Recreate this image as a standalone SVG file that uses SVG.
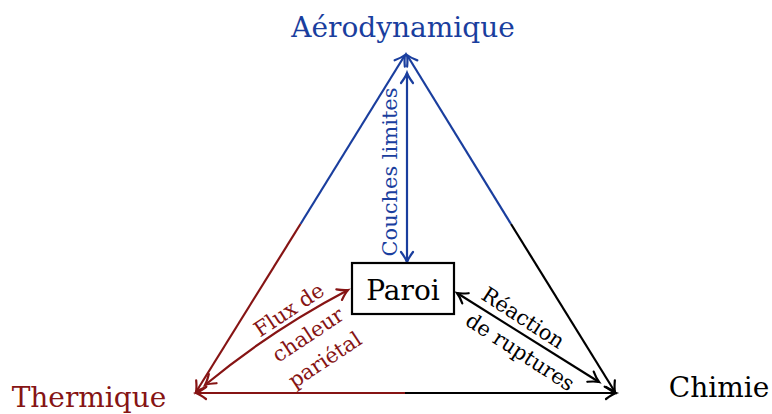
<svg xmlns="http://www.w3.org/2000/svg" width="772" height="414" viewBox="0 0 772 414">
<style>
text{font-family:"DejaVu Serif","Liberation Serif",serif;}
.blue{stroke:#1a3e9e;}
.red{stroke:#861414;}
.black{stroke:#000;}
.ln{fill:none;stroke-width:2.2;}
.tb{fill:#1a3e9e;}
.tr{fill:#861414;}
.tk{fill:#000;}
.big{font-size:28px;}
.lab{font-size:21px;}
</style>
<defs>
<marker id="aB" markerUnits="userSpaceOnUse" markerWidth="20" markerHeight="20" viewBox="-12 -10 14 20" refX="0" refY="0" orient="auto-start-reverse" overflow="visible">
<path d="M-10,-6 Q-4,-1.5 0,0 Q-4,1.5 -10,6" fill="none" stroke="#1a3e9e" stroke-width="2.2" stroke-linecap="round"/>
</marker>
<marker id="aR" markerUnits="userSpaceOnUse" markerWidth="20" markerHeight="20" viewBox="-12 -10 14 20" refX="0" refY="0" orient="auto-start-reverse" overflow="visible">
<path d="M-10,-6 Q-4,-1.5 0,0 Q-4,1.5 -10,6" fill="none" stroke="#861414" stroke-width="2.2" stroke-linecap="round"/>
</marker>
<marker id="aK" markerUnits="userSpaceOnUse" markerWidth="20" markerHeight="20" viewBox="-12 -10 14 20" refX="0" refY="0" orient="auto-start-reverse" overflow="visible">
<path d="M-10,-6 Q-4,-1.5 0,0 Q-4,1.5 -10,6" fill="none" stroke="#000" stroke-width="2.2" stroke-linecap="round"/>
</marker>
</defs>
<rect width="772" height="414" fill="#fff"/>

<g id="connectors">
<line class="ln blue" x1="300.5" y1="224" x2="405" y2="55" marker-end="url(#aB)"/>
<line class="ln red" x1="300.5" y1="224" x2="196" y2="392" marker-end="url(#aR)"/>
<line class="ln blue" x1="511" y1="224" x2="407" y2="55" marker-end="url(#aB)"/>
<line class="ln black" x1="511" y1="224" x2="615" y2="392" marker-end="url(#aK)"/>
<line class="ln red" x1="406" y1="393" x2="196" y2="393" marker-end="url(#aR)"/>
<line class="ln black" x1="405" y1="393" x2="616" y2="393" marker-end="url(#aK)"/>
<line class="ln blue" x1="407" y1="73" x2="407" y2="262" marker-start="url(#aB)" marker-end="url(#aB)"/>
<path class="ln red" d="M205,385 Q270,331 348,290" marker-start="url(#aR)" marker-end="url(#aR)"/>
<line class="ln black" x1="457" y1="293" x2="599" y2="382" marker-start="url(#aK)" marker-end="url(#aK)"/>

<text class="lab tb" text-anchor="middle" transform="translate(397,172) rotate(-90)">Couches limites</text>
<g class="lab tr" text-anchor="middle">
<text transform="translate(292.9,315.8) rotate(-33.6)">Flux de</text>
<text transform="translate(311.9,340.8) rotate(-33.6)">chaleur</text>
<text transform="translate(328.9,365.8) rotate(-33.6)">pariétal</text>
</g>
<g class="lab tk" text-anchor="middle">
<text transform="translate(519.3,323.9) rotate(33)">Réaction</text>
<text transform="translate(516.3,357.9) rotate(33)">de ruptures</text>
</g>
</g>

<g id="aerodynamique">
<text class="big tb" x="403" y="37" text-anchor="middle">Aérodynamique</text>
</g>
<g id="thermique">
<text class="big tr" x="89" y="407" text-anchor="middle">Thermique</text>
</g>
<g id="chimie">
<text class="big tk" x="719" y="397" text-anchor="middle">Chimie</text>
</g>
<g id="paroi">
<rect x="352" y="263" width="102" height="51" fill="#fff" stroke="#000" stroke-width="2.2"/>
<text class="big tk" x="403" y="300" text-anchor="middle">Paroi</text>
</g>
</svg>
